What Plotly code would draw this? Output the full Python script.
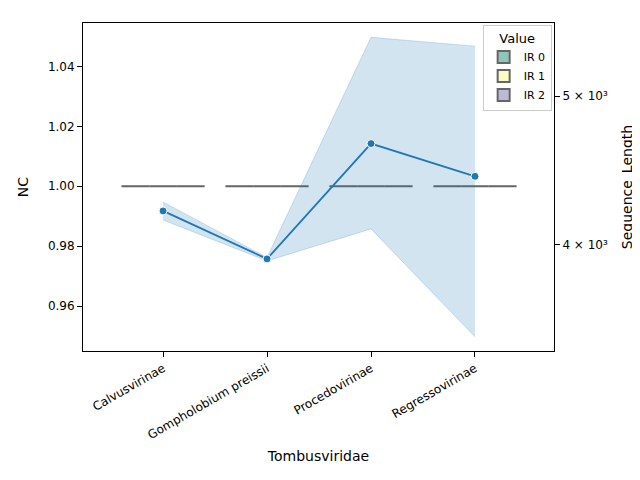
import plotly.graph_objects as go

categories = ["Calvusvirinae", "Gompholobium preissii", "Procedovirinae", "Regressovirinae"]
hue_levels = ["IR 0", "IR 1", "IR 2"]
hue_colors = ["#8dc7bb", "#fbfbc4", "#bdbad9"]
nc_values = [1.0, 1.0, 1.0, 1.0]

seq_mean = [4209, 3917, 4656, 4433]
seq_upper = [4266, 3925, 5460, 5388]
seq_lower = [4152, 3905, 4097, 3485]

fig = go.Figure()

for level, color in zip(hue_levels, hue_colors):
    xs, ys = [], []
    for c, v in zip(categories, nc_values):
        xs += [c] * 3
        ys += [v] * 3
    fig.add_trace(go.Box(x=xs, y=ys, name=level, fillcolor=color,
                         line=dict(color="#666666", width=2),
                         boxpoints=False, legendgroup=level))

fig.add_trace(go.Scatter(x=categories, y=seq_upper, yaxis="y2", mode="lines",
                         line=dict(width=1, color="rgba(31,119,180,0.2)"),
                         showlegend=False, hoverinfo="skip"))
fig.add_trace(go.Scatter(x=categories, y=seq_lower, yaxis="y2", mode="lines",
                         line=dict(width=1, color="rgba(31,119,180,0.2)"),
                         fill="tonexty", fillcolor="rgba(31,119,180,0.2)",
                         showlegend=False, hoverinfo="skip"))
fig.add_trace(go.Scatter(x=categories, y=seq_mean, yaxis="y2", mode="lines+markers",
                         line=dict(color="#1f77b4", width=1.8),
                         marker=dict(size=8, color="#1f77b4", line=dict(color="white", width=1)),
                         showlegend=False))

axis_style = dict(showline=True, linecolor="black", linewidth=1, mirror=False,
                  ticks="outside", tickcolor="black", showgrid=False, zeroline=False,
                  automargin=False, tickfont=dict(size=12, color="black"))

fig.update_layout(
    width=640, height=480,
    margin=dict(l=75, r=94, t=15, b=137),
    plot_bgcolor="white", paper_bgcolor="white",
    font=dict(family="DejaVu Sans", size=12, color="black"),
    boxmode="group", boxgroupgap=0.0, boxgap=0.2,
    xaxis=dict(axis_style, type="category", range=[-0.77, 3.76], tickangle=-30,
               title=dict(text="Tombusviridae", standoff=10), mirror=True),
    yaxis=dict(axis_style, range=[0.945, 1.0545], tickvals=[0.96, 0.98, 1.0, 1.02, 1.04],
               ticktext=["0.96", "0.98", "1.00", "1.02", "1.04"], title=dict(text="NC"), mirror=True),
    yaxis2=dict(axis_style, type="log", overlaying="y", side="right",
                range=[3.533, 3.7465], tickvals=[4000, 5000],
                ticktext=["4 × 10³", "5 × 10³"], title=dict(text="Sequence_Length")),
    legend=dict(x=0.995, y=0.995, xanchor="right", yanchor="top", font=dict(size=11),
                title=dict(text="Value", side="top center"), bordercolor="#cccccc", borderwidth=1,
                bgcolor="rgba(255,255,255,0.8)", tracegroupgap=0, itemwidth=30),
)

fig.write_html("out.html")
